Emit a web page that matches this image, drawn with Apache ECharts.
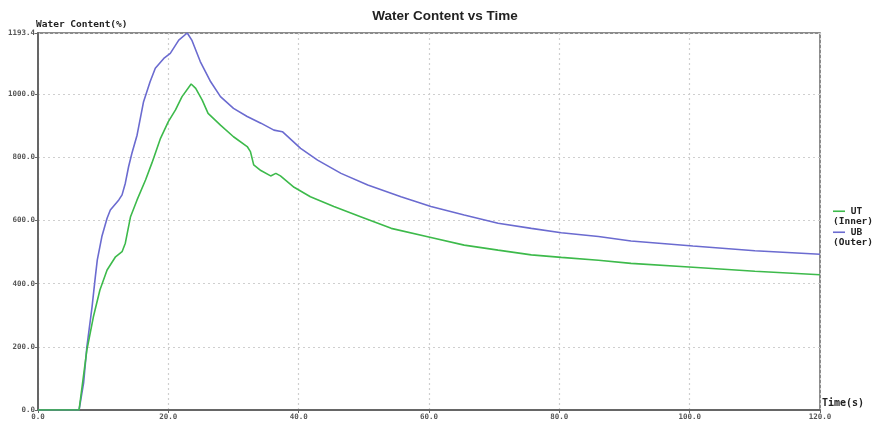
<!DOCTYPE html>
<html>
<head>
<meta charset="utf-8">
<script src="https://cdn.jsdelivr.net/npm/echarts@6/dist/echarts.min.js"></script>
<style>html,body{margin:0;padding:0;background:#fff}#c{width:876px;height:425px}</style>
</head>
<body>
<div id="c"></div>
<script>
var titleText = 'Water Content vs Time';
var yAxisName = 'Water Content(%)';
var xAxisName = 'Time(s)';
var seriesNames = ['UT', 'UB'];
var seriesSubNames = ['(Inner)', '(Outer)'];
var seriesColors = ['#3dba4b', '#6b6bd0'];

var utTime = [0, 6.3, 7.5, 8.5, 9.5, 10.6, 11.9, 12.9, 13.4, 14.2, 15.2, 16.5, 17.5, 18.8, 20.0, 21.1, 22.1, 23.5, 24.2, 25.2, 26.1, 28.0, 30.0, 32.1, 32.6, 33.1, 34.2, 35.7, 36.5, 37.2, 39.3, 41.8, 45.4, 49.5, 54.2, 60.3, 65.4, 70.6, 75.7, 80.3, 86.0, 91.0, 100.5, 110.0, 120.0];
var utValue = [0, 0, 190, 295, 380, 443, 485, 501, 528, 612, 665, 728, 783, 860, 913, 950, 992, 1032, 1018, 981, 939, 902, 865, 834, 818, 776, 758, 741, 749, 741, 705, 675, 644, 612, 575, 546, 522, 506, 491, 483, 474, 464, 452, 439, 428];

var ubTime = [0, 6.3, 7.0, 7.5, 8.3, 8.8, 9.1, 9.8, 10.6, 11.1, 12.4, 12.9, 13.4, 13.9, 14.4, 15.2, 16.2, 17.2, 18.0, 19.3, 20.3, 21.6, 22.9, 23.6, 24.9, 26.5, 28.0, 30.0, 32.1, 34.2, 36.2, 37.5, 40.3, 42.9, 46.5, 50.6, 55.7, 60.3, 65.4, 70.6, 75.7, 80.3, 86.0, 91.0, 100.5, 110.0, 120.0];
var ubValue = [0, 0, 86, 200, 327, 422, 475, 549, 607, 633, 665, 681, 718, 770, 812, 870, 976, 1039, 1082, 1113, 1129, 1171, 1193.4, 1171, 1103, 1039, 992, 955, 929, 908, 886, 881, 828, 791, 749, 712, 675, 644, 617, 591, 575, 561, 549, 535, 519, 504, 493];

var xMin = 0, xMax = 120, xStep = 20;
var yMin = 0, yMax = 1193.4, yStep = 200;

function pairs(t, v) { return t.map(function (x, i) { return [x, v[i]]; }); }

var chart = echarts.init(document.getElementById('c'), null, {renderer: 'canvas'});
var mono = '"DejaVu Sans Mono", "Liberation Mono", monospace';
chart.setOption({
  animation: false,
  backgroundColor: '#fff',
  title: {
    text: titleText, left: 440, top: 4, textAlign: 'center',
    textStyle: {fontFamily: 'Liberation Sans, Arial, sans-serif', fontSize: 13.5, fontWeight: 'bold', color: '#222'}
  },
  legend: {
    orient: 'vertical', left: 823, top: 201,
    itemWidth: 0, itemHeight: 0, itemGap: 0,
    icon: 'rect',
    formatter: function (name) {
      var i = seriesNames.indexOf(name);
      return '{c' + i + '|} ' + name + '\n' + seriesSubNames[i];
    },
    textStyle: {
      fontFamily: mono, fontSize: 9.5, fontWeight: 'bold', color: '#222', lineHeight: 10.5,
      rich: {
        c0: {width: 12, height: 1.6, backgroundColor: seriesColors[0]},
        c1: {width: 12, height: 1.6, backgroundColor: seriesColors[1]}
      }
    },
    data: seriesNames
  },
  grid: {left: 38, right: 56, top: 33, bottom: 15, show: true, borderColor: '#666', borderWidth: 1.5, containLabel: false},
  xAxis: {
    type: 'value', min: xMin, max: xMax, interval: xStep,
    name: xAxisName, nameLocation: 'end', nameGap: 2,
    nameTextStyle: {fontFamily: mono, fontSize: 10, fontWeight: 'bold', color: '#222', verticalAlign: 'bottom', padding: [0,0,2,0]},
    axisLine: {lineStyle: {color: '#666', width: 2}},
    axisTick: {show: true, length: 3, lineStyle: {color: '#666'}},
    axisLabel: {fontFamily: mono, fontSize: 7.5, fontWeight: 'bold', color: '#555', margin: 3, formatter: function (v) { return v.toFixed(1); }},
    splitLine: {show: true, lineStyle: {color: '#cfcfcf', type: [2, 3], width: 1.2}}
  },
  yAxis: {
    type: 'value', min: yMin, max: yMax, interval: yStep,
    name: yAxisName, nameLocation: 'end', nameGap: 3,
    nameTextStyle: {fontFamily: mono, fontSize: 9.5, fontWeight: 'bold', color: '#222', align: 'left', padding: [0,0,0,-2]},
    axisLine: {lineStyle: {color: '#666', width: 2}},
    axisTick: {show: true, length: 3, lineStyle: {color: '#666'}},
    axisLabel: {fontFamily: mono, fontSize: 7.5, fontWeight: 'bold', color: '#555', margin: 3, showMaxLabel: true, formatter: function (v) { return v.toFixed(1); }},
    splitLine: {show: true, lineStyle: {color: '#cfcfcf', type: [2, 3], width: 1.2}}
  },
  series: [
    {name: seriesNames[0], type: 'line', data: pairs(utTime, utValue), symbol: 'none', smooth: false,
     lineStyle: {color: seriesColors[0], width: 1.6}, itemStyle: {color: seriesColors[0]}, z: 3},
    {name: seriesNames[1], type: 'line', data: pairs(ubTime, ubValue), symbol: 'none', smooth: false,
     lineStyle: {color: seriesColors[1], width: 1.6}, itemStyle: {color: seriesColors[1]}, z: 2}
  ]
});
</script>
</body>
</html>
